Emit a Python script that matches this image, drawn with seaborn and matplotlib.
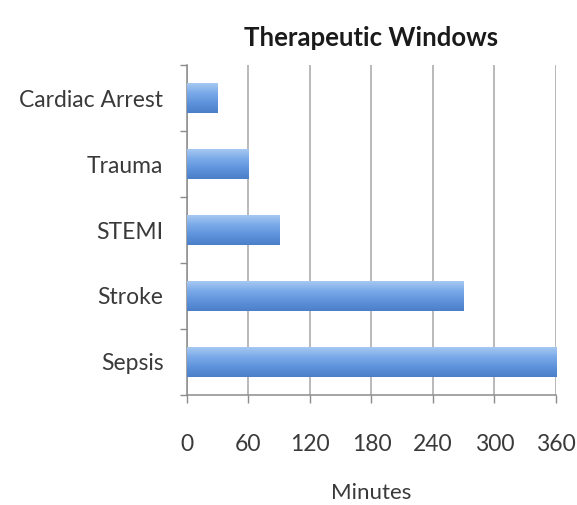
import numpy as np
import pandas as pd
import matplotlib
matplotlib.use("Agg")
import matplotlib.pyplot as plt
import seaborn as sns
from matplotlib.colors import LinearSegmentedColormap

conditions = ["Cardiac Arrest", "Trauma", "STEMI", "Stroke", "Sepsis"]
minutes = [30, 60, 90, 270, 360]
x_ticks = [0, 60, 120, 180, 240, 300, 360]

df = pd.DataFrame({"Condition": conditions, "Minutes": minutes})

sns.set_theme(style="white")
plt.rcParams["font.family"] = ["Lato", "DejaVu Sans"]

fig = plt.figure(figsize=(5.77, 5.05), dpi=100)
ax = fig.add_axes([0.324, 0.218, 0.6396, 0.653])

sns.barplot(data=df, x="Minutes", y="Condition", orient="h",
            color="#5d93dc", width=0.45, ax=ax, zorder=3)

# Vertical gradient fill for each bar: light top edge, darker bottom
grad_cmap = LinearSegmentedColormap.from_list(
    "bar_grad", ["#a6c8f2", "#79a9e8", "#5e93dc", "#4b7fc8"])
grad = np.linspace(0, 1, 64).reshape(-1, 1)
for patch in ax.patches:
    x0, y0 = patch.get_x(), patch.get_y()
    w, h = patch.get_width(), patch.get_height()
    patch.set_facecolor("none")
    patch.set_edgecolor("none")
    im = ax.imshow(grad[::-1], cmap=grad_cmap, aspect="auto",
                   extent=[x0, x0 + w, y0, y0 + h], zorder=3)
    im.set_clip_path(patch)

ax.set_xlim(0, 360)
ax.set_ylim(4.5, -0.5)
ax.set_xticks(x_ticks)
ax.set_xticklabels([str(t) for t in x_ticks])
ax.set_yticks(np.arange(len(conditions)))
ax.set_yticklabels(conditions)

ax.xaxis.grid(True, color="#a6a6a6", linewidth=1.1, zorder=0)
ax.yaxis.grid(False)
ax.set_axisbelow(True)

for side in ["top", "right"]:
    ax.spines[side].set_visible(False)
for side in ["left", "bottom"]:
    ax.spines[side].set_color("#8c8c8c")
    ax.spines[side].set_linewidth(1.1)

# Category separators as minor ticks on the left axis
ax.set_yticks(np.arange(-0.5, len(conditions), 1.0), minor=True)
ax.tick_params(axis="y", which="major", length=0, pad=17,
               labelsize=16.5, labelcolor="#3a3a3a")
ax.tick_params(axis="y", which="minor", left=True, length=5,
               width=1.0, color="#8c8c8c")
ax.tick_params(axis="x", which="major", bottom=True, length=6, width=1.0,
               color="#8c8c8c", pad=22, labelsize=16.5, labelcolor="#3a3a3a")

ax.set_ylabel("")
ax.set_xlabel("Minutes", fontsize=16, color="#3a3a3a", labelpad=20)
ax.set_title("Therapeutic Windows", fontsize=18.5, fontweight="bold",
             color="#1a1a1a", pad=14)

fig.savefig("out.png", dpi=100)
